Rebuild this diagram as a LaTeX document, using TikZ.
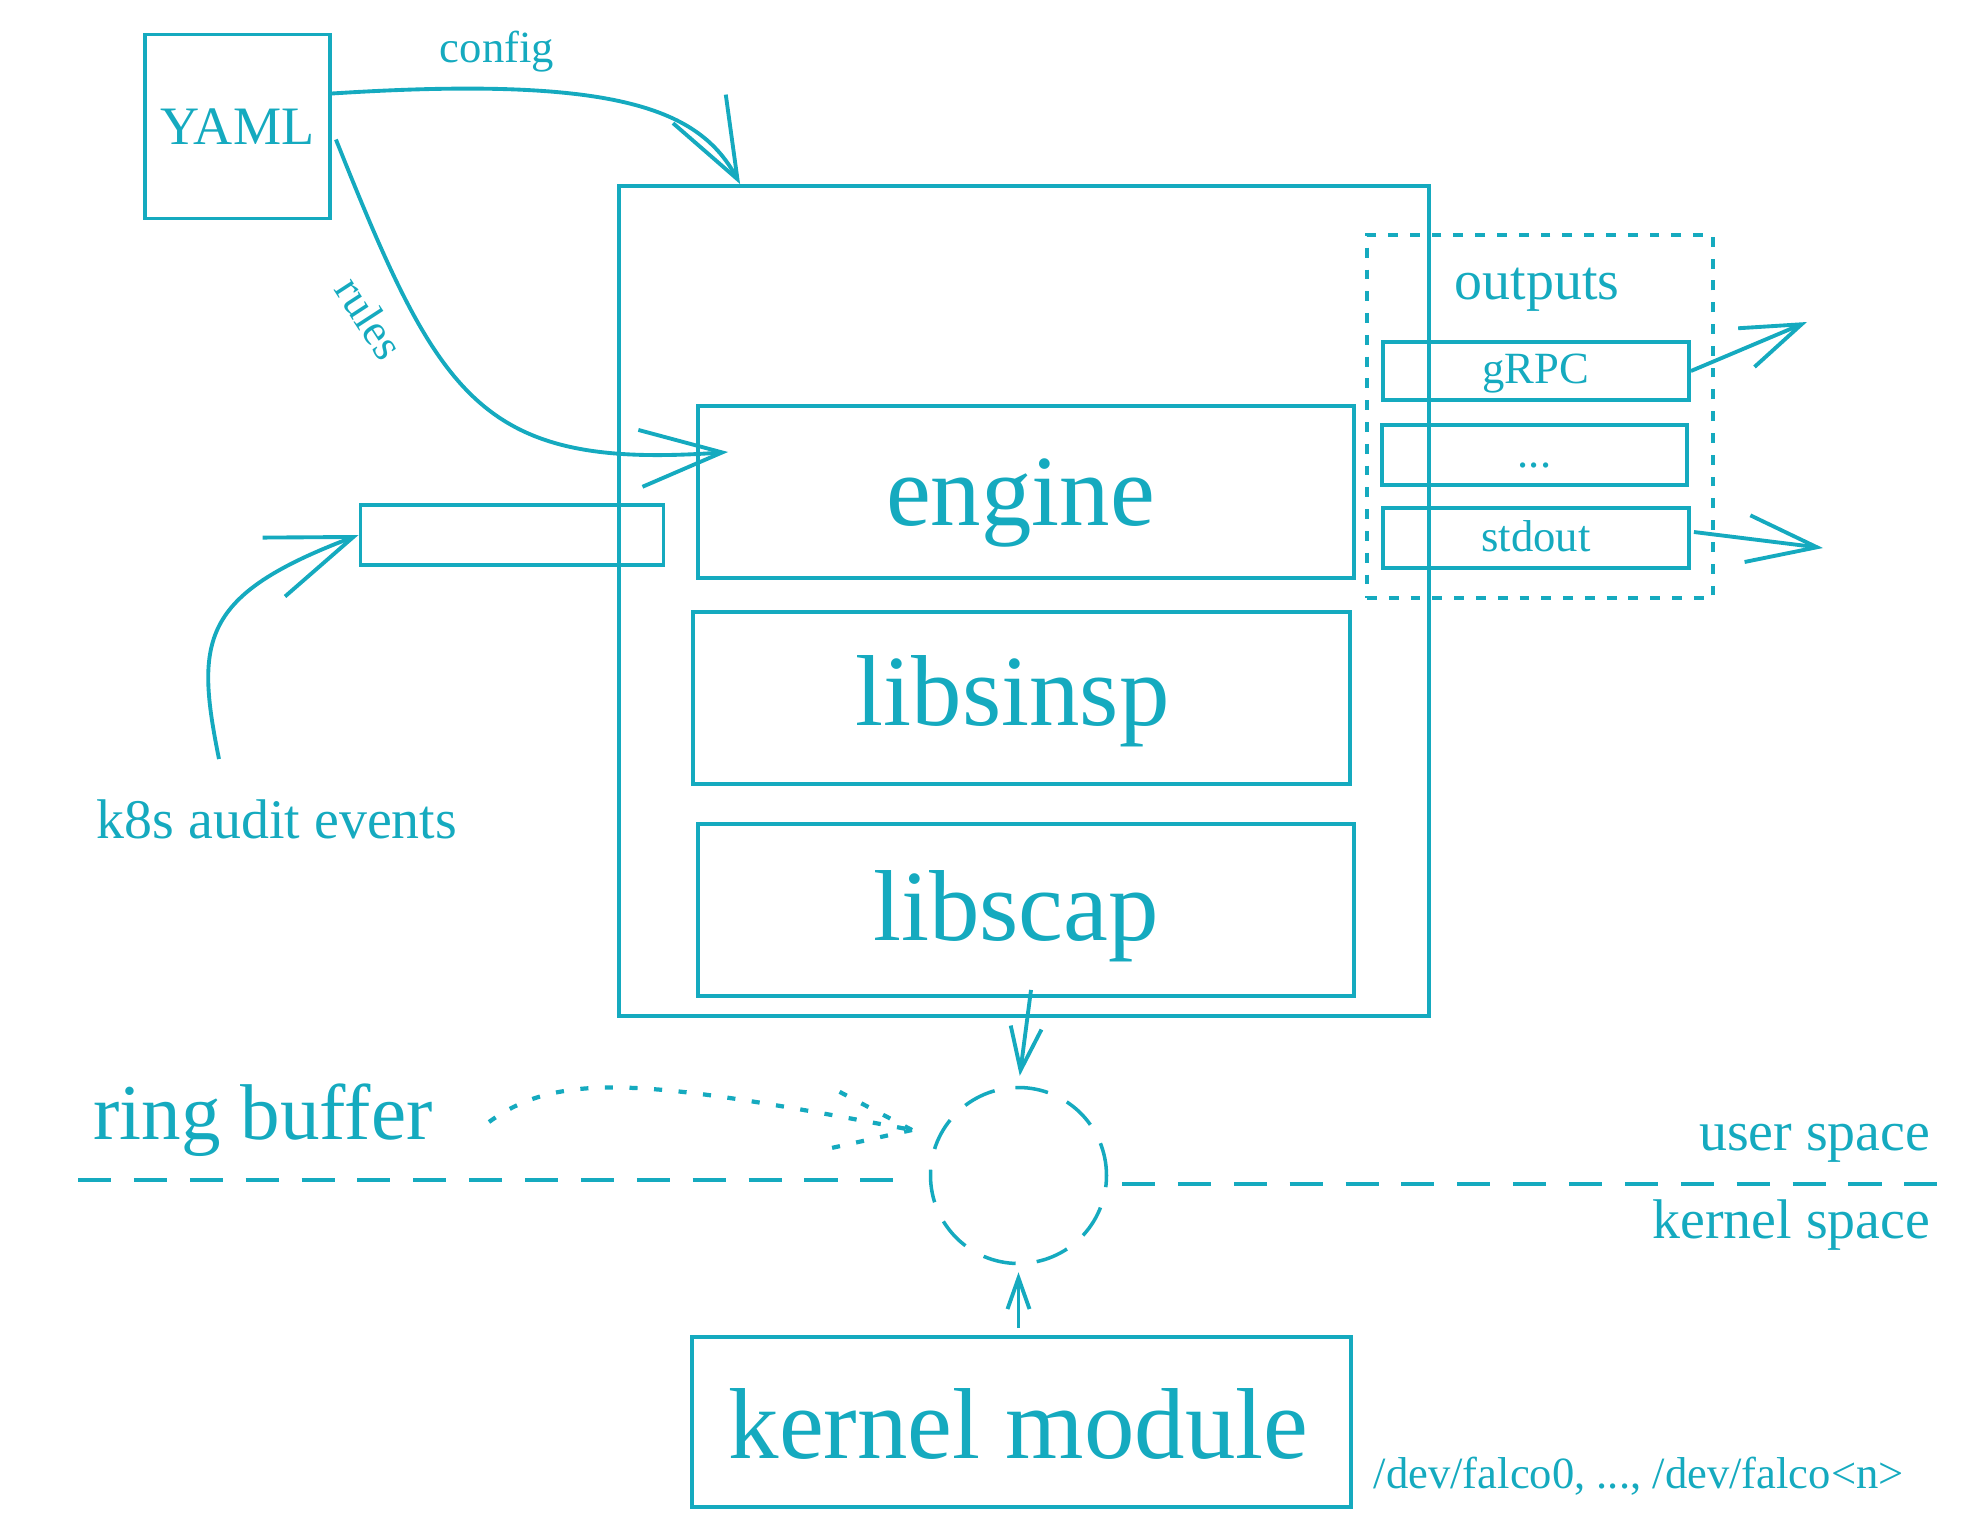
\documentclass[tikz,border=0pt]{standalone}
\usepackage{fontspec}
\setmainfont{Liberation Serif}
\usetikzlibrary{arrows.meta,calc}
\definecolor{fc}{HTML}{15AABF}
\begin{document}
\begin{tikzpicture}[x=0.1mm,y=-0.1mm,
  ln/.style={draw=fc,line width=1.1pt},
  box/.style={ln,rectangle,inner sep=0pt,text=fc,text depth=0pt},
  lbl/.style={text=fc,inner sep=0pt,anchor=base},
  fbig/.style={font=\fontsize{28.7}{30}\selectfont},
  fring/.style={font=\fontsize{22.5}{24}\selectfont},
  fmed/.style={font=\fontsize{15.9}{18}\selectfont},
  fyaml/.style={font=\fontsize{15.4}{18}\selectfont},
  fsmall/.style={font=\fontsize{12.7}{15}\selectfont},
  divider/.style={draw=fc,line width=1.2pt,dash pattern=on 9.4pt off 6.5pt},
  dotline/.style={draw=fc,line width=1.2pt,dash pattern=on 2.3pt off 4.7pt},
]
\useasboundingbox (0,0) rectangle (1966,1528);

% main boxes
\node[box,minimum width=81.0mm,minimum height=83.0mm] (falco) at (1024,601) {};
\node[box,fbig,text height=19.3pt,minimum width=65.6mm,minimum height=17.2mm] (engine) at (1026,492) {engine\kern1.1mm};
\node[box,fbig,text height=15.6pt,minimum width=65.7mm,minimum height=17.2mm] (libsinsp) at (1021.5,698) {libsinsp\kern1.8mm};
\node[box,fbig,text height=17.4pt,minimum width=65.6mm,minimum height=17.2mm] (libscap) at (1026,910) {libscap\kern2mm};
\node[box,fbig,text height=20.5pt,minimum width=65.9mm,minimum height=17.0mm] (kmod) at (1021.5,1422) {kernel module\kern0.6mm};
\node[box,fyaml,text height=10pt,minimum width=18.5mm,minimum height=18.4mm] (yaml) at (237.5,126.5) {YAML};

% outputs group
\node[draw=fc,line width=1.2pt,dash pattern=on 2.8pt off 3.4pt,inner sep=0pt,
      minimum width=34.6mm,minimum height=36.3mm] (outputs) at (1540,416.5) {};
\node[lbl,fmed] (outlbl) at (1537,299) {outputs};
\node[box,fsmall,text height=7pt,minimum width=30.6mm,minimum height=5.8mm] (grpc) at (1536,371) {gRPC};
\node[box,fsmall,text height=7pt,minimum width=30.5mm,minimum height=6.0mm] (dots) at (1534.5,455) {...};
\node[box,fsmall,text height=7.6pt,minimum width=30.6mm,minimum height=6.0mm] (stdout) at (1536,538) {stdout};

% k8s input
\node[box,minimum width=30.3mm,minimum height=6.0mm] (k8sbox) at (512,535) {};
\node[lbl,fmed] (k8s) at (277,838) {k8s audit events};

% labels
\node[lbl,fsmall] (cfg) at (497,62) {config};
\node[fsmall,text=fc,inner sep=0pt,rotate=-57] (rules) at (370,318) {rules};
\node[lbl,fring] (rb) at (263,1139) {ring buffer};
\node[lbl,fmed,anchor=base east] (us) at (1931,1150) {user space};
\node[lbl,fmed,anchor=base east] (ks) at (1931,1238) {kernel space};
\node[lbl,fsmall,anchor=base west] (dev) at (1373,1488) {/dev/falco0, ..., /dev/falco<n>};

% ring buffer circle
\node[circle,draw=fc,line width=1pt,dash pattern=on 9.4pt off 6pt,inner sep=0pt,
      minimum size=17.6mm] (rbuf) at (1018.5,1175.5) {};

% user/kernel divider
\draw[divider] (78,1180) -- (902,1180);
\draw[divider] (1122,1184) -- (1946,1184);

% coordinates for connector ends
\coordinate (cfgS) at ($(yaml.east)+(0,-33)$);
\coordinate (cfgE) at ($(falco.north west)+(123,0)$);
\coordinate (rulS) at ($(yaml.east)+(4,13)$);
\coordinate (rulE) at ($(engine.west)+(32,-40)$);
\coordinate (k8sS) at (219,759);
\coordinate (grpcT) at (1807,322);
\coordinate (stdT) at (1823,548);
\coordinate (rbS) at (489,1122);
\coordinate (rbT) at (912,1130);

% connectors
\draw[ln,-{Straight Barb[length=8mm,width=6mm]}] (cfgS) .. controls (620,75) and (700,110) .. (cfgE);
\draw[ln,-{Straight Barb[length=8.2mm,width=5.7mm]}] (rulS) .. controls (440,400) and (480,470) .. (rulE);
\draw[ln,-{Straight Barb[length=8.5mm,width=6.3mm]}] (k8sS) .. controls (195,640) and (200,595) .. (k8sbox.west);
\draw[ln,-{Straight Barb[length=6mm,width=4.2mm]}] (grpc.east) -- (grpcT);
\draw[ln,-{Straight Barb[length=7mm,width=4.7mm]}] ($(stdout.east)+(3,-6)$) -- (stdT);
\draw[ln,-{Straight Barb[length=4.3mm,width=3.1mm]},shorten >=1mm] ($(libscap.south)+(5,-8)$) -- (rbuf.north);
\draw[ln,-{Straight Barb[length=3.1mm,width=2.2mm]},shorten >=0.7mm] ($(kmod.north)+(-3,-7)$) -- (rbuf.south);

% dotted ring-buffer pointer
\draw[dotline] (rbS) .. controls (560,1070) and (650,1080) .. (rbT);
\draw[dotline] (rbT) -- ++(-74,-39);
\draw[dotline] (rbT) -- ++(-85,19);
\end{tikzpicture}
\end{document}
